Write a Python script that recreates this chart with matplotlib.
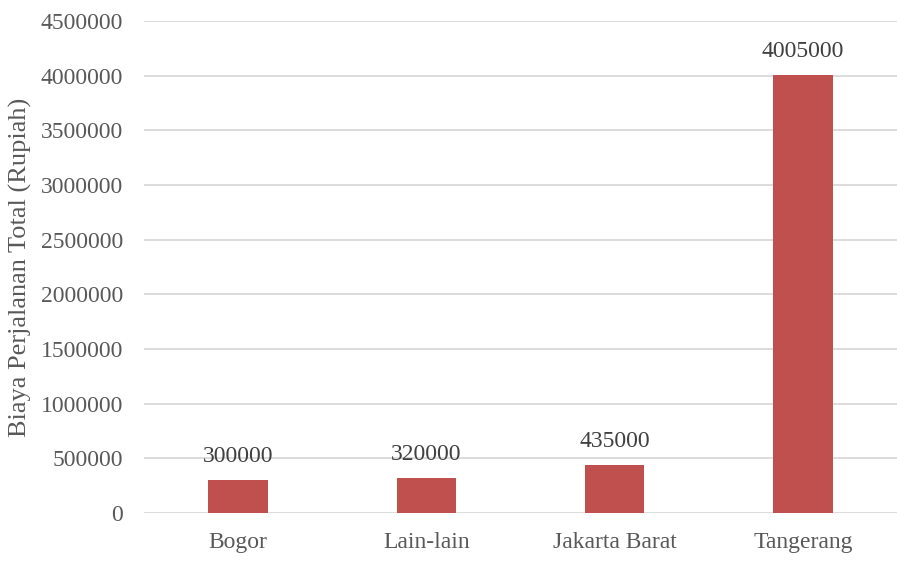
import matplotlib
matplotlib.use("Agg")
import matplotlib.pyplot as plt

categories = ["Bogor", "Lain-lain", "Jakarta Barat", "Tangerang"]
values = [300000, 320000, 435000, 4005000]
yticks = [0, 500000, 1000000, 1500000, 2000000, 2500000, 3000000, 3500000, 4000000, 4500000]

plt.rcParams['font.family'] = ['Liberation Serif', 'DejaVu Serif']
text_color = '#595959'

fig = plt.figure(figsize=(8.97, 5.63), dpi=100)
ax = fig.add_axes([0.1605, 0.0888, 0.8395, 0.8739])

x = range(len(categories))
bars = ax.bar(x, values, width=0.315, color='#C0504D', zorder=3)
for xi, v in zip(x, values):
    ax.text(xi, v + 120000, str(v), ha='center', va='bottom', fontsize=17, color='#404040', zorder=4)

ax.set_xlim(-0.5, len(categories) - 0.5)
ax.set_ylim(0, 4500000)
ax.set_yticks(yticks)
ax.set_yticklabels([str(t) for t in yticks])
ax.set_xticks(list(x))
ax.set_xticklabels(categories)
ax.tick_params(axis='both', length=0, labelsize=17, labelcolor=text_color)
ax.tick_params(axis='y', pad=15)
ax.tick_params(axis='x', pad=14)
ax.grid(axis='y', color='#D9D9D9', linewidth=1.3, zorder=0)
for s in ax.spines.values():
    s.set_visible(False)
ax.set_ylabel("Biaya Perjalanan Total (Rupiah)", fontsize=19, color=text_color, labelpad=6)

fig.savefig("out.png", dpi=100)
